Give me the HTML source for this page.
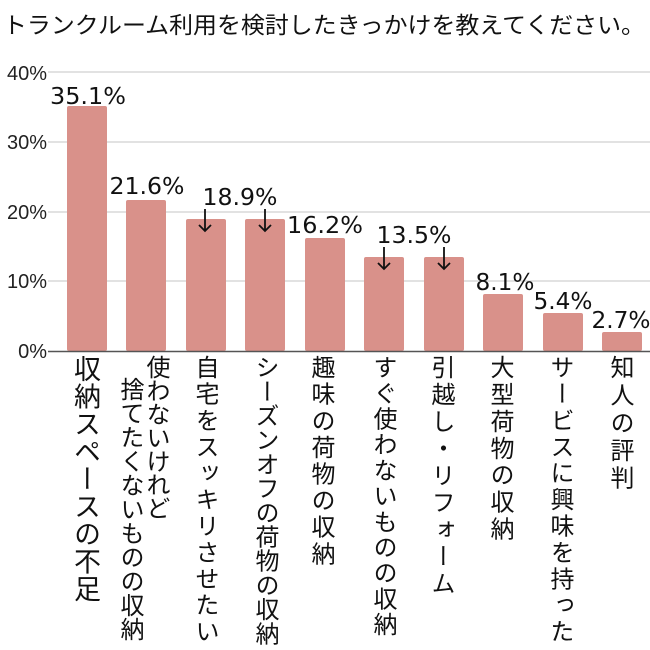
<!DOCTYPE html>
<html><head><meta charset="utf-8"><style>
html,body{margin:0;padding:0;background:#fff;}
body{width:650px;height:650px;position:relative;overflow:hidden;font-family:"Liberation Sans","Noto Sans CJK JP",sans-serif;}
.v{position:absolute;top:355px;writing-mode:vertical-rl;font-size:24px;line-height:24px;color:#111;font-family:"Noto Sans CJK JP",sans-serif;white-space:nowrap;}
</style></head><body>
<svg width="650" height="650" style="position:absolute;left:0;top:0" xmlns="http://www.w3.org/2000/svg">
<text x="3" y="33" font-size="23" textLength="642" lengthAdjust="spacingAndGlyphs" font-family="Noto Sans CJK JP, sans-serif" fill="#111">トランクルーム利用を検討したきっかけを教えてください。</text>
<g stroke="#d8d8d8" stroke-width="1.5">
<line x1="48" y1="72" x2="650" y2="72"/><line x1="48" y1="142" x2="650" y2="142"/><line x1="48" y1="212" x2="650" y2="212"/><line x1="48" y1="281" x2="650" y2="281"/>
</g>
<g font-size="20" fill="#222" text-anchor="end" font-family="Liberation Sans, sans-serif">
<text x="47" y="80">40%</text><text x="47" y="149">30%</text><text x="47" y="219">20%</text><text x="47" y="288">10%</text><text x="47" y="358">0%</text>
</g>
<g fill="#d9918a">
<rect x="67" y="106" width="40" height="245" rx="2"/>
<rect x="126" y="200" width="40" height="151" rx="2"/>
<rect x="186" y="219" width="40" height="132" rx="2"/>
<rect x="245" y="219" width="40" height="132" rx="2"/>
<rect x="305" y="238" width="40" height="113" rx="2"/>
<rect x="364" y="257" width="40" height="94" rx="2"/>
<rect x="424" y="257" width="40" height="94" rx="2"/>
<rect x="483" y="294" width="40" height="57" rx="2"/>
<rect x="543" y="313" width="40" height="38" rx="2"/>
<rect x="602" y="332" width="40" height="19" rx="2"/>
</g>
<line x1="48" y1="351.5" x2="650" y2="351.5" stroke="#555" stroke-width="1.5"/>
<g font-size="23" fill="#111" text-anchor="middle" font-family="DejaVu Sans, sans-serif">
<text x="88" y="104" textLength="76" lengthAdjust="spacingAndGlyphs">35.1%</text>
<text x="147" y="194" textLength="75" lengthAdjust="spacingAndGlyphs">21.6%</text>
<text x="240" y="205" textLength="75" lengthAdjust="spacingAndGlyphs">18.9%</text>
<text x="325" y="233" textLength="76" lengthAdjust="spacingAndGlyphs">16.2%</text>
<text x="414" y="243" textLength="75" lengthAdjust="spacingAndGlyphs">13.5%</text>
<text x="505" y="290" textLength="59" lengthAdjust="spacingAndGlyphs">8.1%</text>
<text x="563" y="309" textLength="59" lengthAdjust="spacingAndGlyphs">5.4%</text>
<text x="621" y="328" textLength="59" lengthAdjust="spacingAndGlyphs">2.7%</text>
</g>
<g stroke="#111" stroke-width="1.8" fill="none">
<path d="M205 209V231M199 225L205 231L211 225"/>
<path d="M265 209V231M259 225L265 231L271 225"/>
<path d="M384 247V269M378 263L384 269L390 263"/>
<path d="M444 247V269M438 263L444 269L450 263"/>
</g>
</svg>
<div class="v" style="left:74px;font-size:27px;line-height:27px;letter-spacing:0.5px">収納スペースの不足</div>
<div class="v" style="left:146px;letter-spacing:-0.5px">使わないけれど</div>
<div class="v" style="left:120px;top:377px;letter-spacing:0px">捨てたくないものの収納</div>
<div class="v" style="left:195px;letter-spacing:2.4px">自宅をスッキリさせたい</div>
<div class="v" style="left:255px;letter-spacing:0.2px">シーズンオフの荷物の収納</div>
<div class="v" style="left:311px;letter-spacing:2.6px">趣味の荷物の収納</div>
<div class="v" style="left:373px;letter-spacing:1.7px">すぐ使わないものの収納</div>
<div class="v" style="left:431px;letter-spacing:3px">引越し・リフォーム</div>
<div class="v" style="left:490px;letter-spacing:2.9px">大型荷物の収納</div>
<div class="v" style="left:550px;letter-spacing:2.4px">サービスに興味を持った</div>
<div class="v" style="left:610px;letter-spacing:3.6px">知人の評判</div>
</body></html>
